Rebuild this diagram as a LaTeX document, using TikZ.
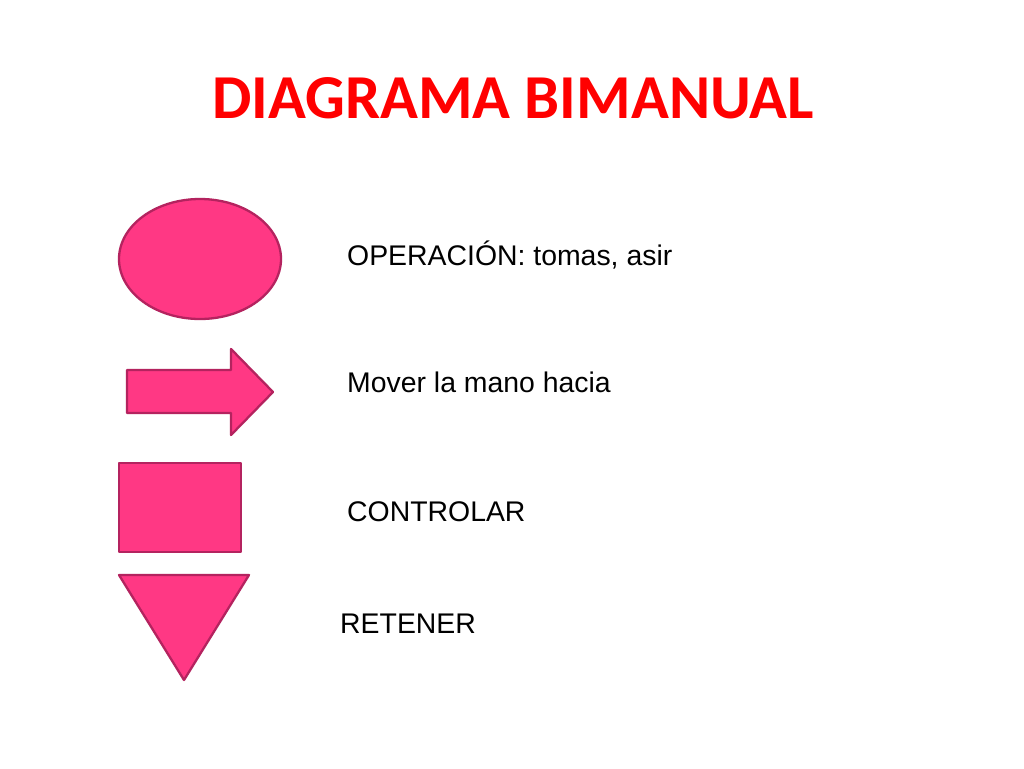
\documentclass[tikz,border=0pt]{standalone}
\usepackage{fontspec}
\setmainfont{Liberation Sans}
\newfontfamily\titlefont{Carlito}
\usetikzlibrary{shapes.geometric}
\definecolor{pinkfill}{RGB}{255,56,132}
\definecolor{pinkline}{RGB}{180,35,95}
\definecolor{titlered}{RGB}{255,0,0}
\tikzset{
  symb/.style={fill=pinkfill, draw=pinkline, line width=2.3pt, line join=round},
  lbl/.style={anchor=base west, inner sep=0pt, font=\fontsize{28.4}{32}\selectfont, text=black}
}
\begin{document}
\begin{tikzpicture}[x=1pt,y=-1pt]
\useasboundingbox[fill=white] (0,0) rectangle (1024,768);
\node[anchor=base, inner sep=0pt, text=titlered, font=\titlefont\bfseries\fontsize{62.5}{66}\selectfont] (title) at (513,118) {DIAGRAMA BIMANUAL};
% ellipse
\draw[symb] (200,259) ellipse [x radius=81, y radius=60];
% arrow
\draw[symb] (127,370) -- (231,370) -- (231,349) -- (273,392) -- (231,435) -- (231,413) -- (127,413) -- cycle;
% rectangle
\draw[symb] (119,463) rectangle (241,552);
% triangle
\draw[symb] (119,575) -- (249,575) -- (184,680) -- cycle;
\node[lbl] (op) at (347,265) {OPERACIÓN: tomas, asir};
\node[lbl] (mov) at (347,392) {Mover la mano hacia};
\node[lbl] (ctl) at (347,521) {CONTROLAR};
\node[lbl] (ret) at (340,633) {RETENER};
\end{tikzpicture}
\end{document}
